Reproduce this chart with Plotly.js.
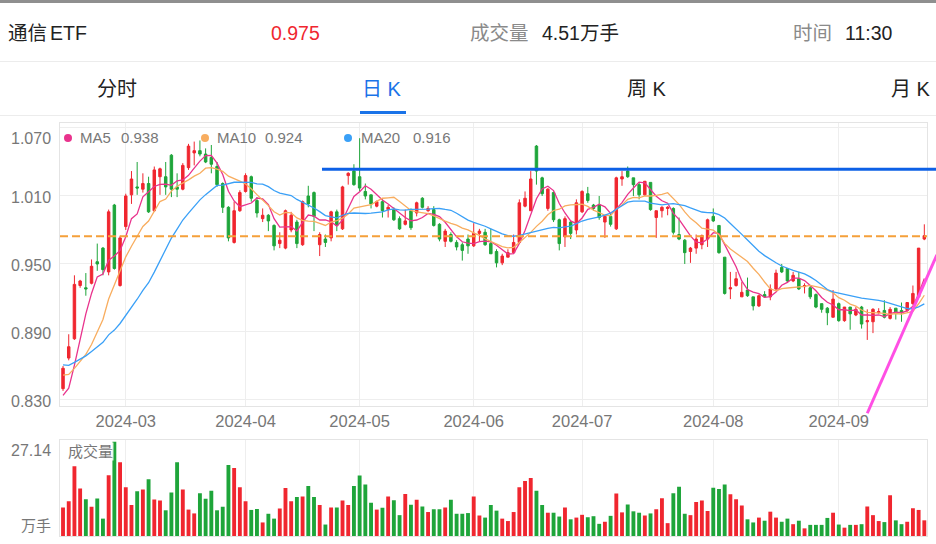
<!DOCTYPE html>
<html>
<head>
<meta charset="utf-8">
<script src="https://cdn.plot.ly/plotly-3.0.1.min.js"></script>
<style>
html,body{margin:0;padding:0;background:#fff;width:936px;height:544px;overflow:hidden;
  font-family:"Liberation Sans","Noto Sans CJK SC",sans-serif;}
#chart{position:absolute;left:0;top:0;width:936px;height:544px;}
.t{position:absolute;white-space:nowrap;height:26px;line-height:26px;z-index:5;}
.hd{font-size:19.5px;color:#222;}
.tab{font-size:20px;color:#222;}
.lg{font-size:15px;color:#777;height:20px;line-height:20px;}
.dot{position:absolute;width:8px;height:8px;border-radius:50%;z-index:5;}
.hl{position:absolute;left:0;width:936px;z-index:4;}
</style>
</head>
<body>
<div id="chart"></div>

<div class="hl" style="top:0;height:3px;background:#8f8f8f;"></div>
<div class="t hd" style="left:8px;top:20px;">通信<span style="margin-left:3px">ETF</span></div>
<div class="t hd" style="left:271px;top:20px;color:#f0262f;">0.975</div>
<div class="t hd" style="left:470px;top:20px;color:#8a8a8a;">成交量</div>
<div class="t hd" style="left:542px;top:20px;">4.51万手</div>
<div class="t hd" style="left:793px;top:20px;color:#8a8a8a;">时间</div>
<div class="t hd" style="left:845px;top:20px;">11:30</div>
<div class="hl" style="top:61px;height:1px;background:#ececec;"></div>

<div class="t tab" style="left:97px;top:76px;">分时</div>
<div class="t tab" style="left:362px;top:76px;color:#1a73e8;">日 K</div>
<div class="t tab" style="left:627px;top:76px;">周 K</div>
<div class="t tab" style="left:891px;top:76px;">月 K</div>
<div style="position:absolute;left:360px;top:111px;width:46px;height:3px;background:#1a73e8;z-index:5;"></div>
<div class="hl" style="top:115px;height:1px;background:#ececec;"></div>

<div id="legend"></div>

<script>
// ---------------- data ----------------
const dates = [
 '2024-02-07','2024-02-08','2024-02-19','2024-02-20','2024-02-21','2024-02-22','2024-02-23','2024-02-26','2024-02-27','2024-02-28',
 '2024-02-29','2024-03-01','2024-03-04','2024-03-05','2024-03-06','2024-03-07','2024-03-08','2024-03-11','2024-03-12','2024-03-13',
 '2024-03-14','2024-03-15','2024-03-18','2024-03-19','2024-03-20','2024-03-21','2024-03-22','2024-03-25','2024-03-26','2024-03-27',
 '2024-03-28','2024-03-29','2024-04-01','2024-04-02','2024-04-03','2024-04-08','2024-04-09','2024-04-10','2024-04-11','2024-04-12',
 '2024-04-15','2024-04-16','2024-04-17','2024-04-18','2024-04-19','2024-04-22','2024-04-23','2024-04-24','2024-04-25','2024-04-26',
 '2024-04-29','2024-04-30','2024-05-06','2024-05-07','2024-05-08','2024-05-09','2024-05-10','2024-05-13','2024-05-14','2024-05-15',
 '2024-05-16','2024-05-17','2024-05-20','2024-05-21','2024-05-22','2024-05-23','2024-05-24','2024-05-27','2024-05-28','2024-05-29',
 '2024-05-30','2024-05-31','2024-06-03','2024-06-04','2024-06-05','2024-06-06','2024-06-07','2024-06-11','2024-06-12','2024-06-13',
 '2024-06-14','2024-06-17','2024-06-18','2024-06-19','2024-06-20','2024-06-21','2024-06-24','2024-06-25','2024-06-26','2024-06-27',
 '2024-06-28','2024-07-01','2024-07-02','2024-07-03','2024-07-04','2024-07-05','2024-07-08','2024-07-09','2024-07-10','2024-07-11',
 '2024-07-12','2024-07-15','2024-07-16','2024-07-17','2024-07-18','2024-07-19','2024-07-22','2024-07-23','2024-07-24','2024-07-25',
 '2024-07-26','2024-07-29','2024-07-30','2024-07-31','2024-08-01','2024-08-02','2024-08-05','2024-08-06','2024-08-07','2024-08-08',
 '2024-08-09','2024-08-12','2024-08-13','2024-08-14','2024-08-15','2024-08-16','2024-08-19','2024-08-20','2024-08-21','2024-08-22',
 '2024-08-23','2024-08-26','2024-08-27','2024-08-28','2024-08-29','2024-08-30','2024-09-02','2024-09-03','2024-09-04','2024-09-05',
 '2024-09-06','2024-09-09','2024-09-10','2024-09-11','2024-09-12','2024-09-13','2024-09-18','2024-09-19','2024-09-20','2024-09-23',
 '2024-09-24','2024-09-25'
];
const open = [
 0.840,0.867,0.884,0.931,0.929,0.933,0.952,0.964,0.943,1.002,
 0.931,0.983,1.011,1.018,1.016,1.021,0.997,1.027,1.027,1.046,
 1.018,1.016,1.035,1.048,1.050,1.047,1.044,1.036,1.021,1.000,
 0.969,0.997,1.014,1.027,1.006,0.990,0.993,0.984,0.968,0.964,
 0.980,0.987,0.967,1.010,1.013,0.967,0.972,0.973,0.996,0.981,
 1.028,1.032,1.027,1.014,1.011,1.001,1.005,0.998,0.998,0.990,
 0.985,0.997,0.995,1.008,0.997,0.998,0.985,0.970,0.976,0.969,
 0.967,0.972,0.966,0.977,0.978,0.968,0.961,0.951,0.956,0.960,
 0.969,1.001,0.997,1.054,1.026,0.999,1.013,0.989,0.974,0.987,
 0.980,0.996,1.012,1.002,1.002,0.987,0.992,0.981,1.025,1.032,
 1.026,1.020,1.011,1.022,0.991,0.997,0.999,0.999,0.976,0.971,
 0.961,0.964,0.967,0.972,0.992,0.984,0.956,0.928,0.931,0.921,
 0.927,0.921,0.913,0.923,0.921,0.928,0.947,0.946,0.935,0.937,
 0.930,0.929,0.923,0.915,0.911,0.903,0.915,0.900,0.912,0.905,
 0.912,0.899,0.899,0.907,0.909,0.902,0.911,0.909,0.909,0.915,
 0.921,0.972
];
const high = [
 0.860,0.888,0.940,0.936,0.942,0.954,0.968,0.965,0.998,1.003,
 0.975,1.012,1.032,1.040,1.030,1.027,1.036,1.035,1.040,1.047,
 1.030,1.039,1.056,1.058,1.059,1.052,1.055,1.040,1.022,1.001,
 1.005,1.015,1.030,1.028,1.009,0.999,0.994,0.985,0.978,0.998,
 0.996,0.989,1.006,1.019,1.014,0.978,0.976,0.997,0.998,1.019,
 1.031,1.038,1.061,1.021,1.011,1.006,1.007,1.002,1.000,0.992,
 0.998,0.999,1.005,1.009,1.001,1.001,0.986,0.981,0.978,0.971,
 0.969,0.976,0.986,0.981,0.981,0.981,0.963,0.959,0.963,0.976,
 1.007,1.014,1.032,1.055,1.027,1.017,1.014,0.990,0.992,0.988,
 1.007,1.015,1.018,1.003,1.010,0.993,0.995,1.027,1.032,1.036,
 1.026,1.022,1.023,1.022,0.997,1.001,1.001,1.000,0.991,0.972,
 0.965,0.976,0.976,0.990,0.999,0.984,0.956,0.943,0.943,0.934,
 0.938,0.921,0.923,0.926,0.932,0.945,0.950,0.946,0.943,0.943,
 0.933,0.931,0.924,0.915,0.912,0.927,0.916,0.912,0.912,0.912,
 0.913,0.910,0.911,0.911,0.918,0.912,0.911,0.916,0.916,0.931,
 0.964,0.985
];
const low = [
 0.838,0.865,0.883,0.929,0.922,0.932,0.944,0.940,0.940,0.945,
 0.930,0.980,1.003,1.011,1.013,0.995,0.996,1.011,1.011,1.009,
 1.009,1.015,1.033,1.037,1.045,1.039,1.030,1.018,0.995,0.970,
 0.968,0.996,1.013,1.005,0.991,0.987,0.979,0.962,0.964,0.963,
 0.978,0.964,0.966,1.000,0.979,0.957,0.965,0.970,0.979,0.980,
 1.020,1.019,1.014,1.007,0.999,1.000,0.991,0.991,0.988,0.980,
 0.984,0.980,0.992,0.999,0.996,0.983,0.970,0.965,0.969,0.962,
 0.953,0.959,0.965,0.970,0.966,0.959,0.947,0.949,0.956,0.959,
 0.968,1.000,0.997,1.020,1.010,0.997,0.987,0.962,0.965,0.972,
 0.976,0.995,1.004,0.997,0.989,0.973,0.983,0.980,1.019,1.026,
 1.010,1.007,1.010,0.997,0.973,0.991,0.993,0.976,0.971,0.950,
 0.951,0.959,0.963,0.965,0.987,0.959,0.923,0.919,0.930,0.921,
 0.921,0.909,0.912,0.920,0.918,0.927,0.942,0.934,0.934,0.927,
 0.924,0.919,0.911,0.907,0.896,0.903,0.899,0.899,0.892,0.904,
 0.893,0.883,0.889,0.906,0.902,0.901,0.901,0.899,0.908,0.914,
 0.920,0.971
];
const close = [
 0.858,0.877,0.932,0.935,0.928,0.948,0.950,0.945,0.996,0.946,
 0.973,1.010,1.025,1.017,1.021,0.996,1.033,1.034,1.018,1.016,
 1.016,1.037,1.054,1.050,1.047,1.040,1.038,1.020,1.000,0.973,
 0.997,1.013,1.028,1.008,0.995,0.993,0.988,0.966,0.971,0.997,
 0.993,0.968,1.005,1.003,0.992,0.976,0.969,0.996,0.984,1.018,
 1.030,1.020,1.017,1.010,1.003,1.005,0.997,1.000,0.989,0.981,
 0.988,0.982,1.004,1.000,0.999,0.984,0.972,0.979,0.970,0.965,
 0.962,0.966,0.977,0.979,0.967,0.959,0.951,0.957,0.960,0.969,
 1.004,1.008,1.025,1.032,1.012,1.016,0.989,0.968,0.990,0.977,
 1.004,1.014,1.006,0.999,0.991,0.992,0.985,1.026,1.027,1.027,
 1.020,1.011,1.023,0.998,0.997,1.000,1.000,0.978,0.972,0.960,
 0.964,0.972,0.975,0.989,0.988,0.960,0.924,0.929,0.937,0.925,
 0.922,0.913,0.922,0.921,0.928,0.942,0.943,0.935,0.940,0.928,
 0.931,0.921,0.912,0.910,0.907,0.919,0.900,0.912,0.906,0.910,
 0.897,0.900,0.910,0.908,0.903,0.910,0.907,0.907,0.916,0.924,
 0.964,0.975
];
// volume, 万手
const volume = [
 8.2,10.0,20.1,13.7,10.6,8.4,10.8,5.0,17.5,27.14,
 21.2,14.0,8.9,12.9,13.4,16.3,10.5,10.2,7.4,12.5,
 21.2,13.4,7.6,6.5,12.3,10.7,13.0,7.4,8.4,20.4,
 19.6,14.0,10.0,7.5,7.8,3.9,6.4,5.0,7.9,13.8,
 10.0,11.2,11.4,14.4,11.2,8.9,3.3,8.2,8.2,10.2,
 8.9,14.4,17.4,14.8,9.6,7.6,8.1,11.4,10.3,6.0,
 12.1,9.0,10.4,8.5,6.9,7.7,7.7,8.2,10.4,6.4,
 6.4,6.6,11.4,5.9,5.3,8.9,7.3,5.0,4.3,6.9,
 14.0,15.8,16.7,13.0,8.9,6.7,6.7,5.6,8.2,4.8,
 5.3,6.1,5.4,5.7,3.5,4.1,5.8,12.2,6.8,9.1,
 7.1,6.7,5.9,6.5,7.7,10.9,3.7,12.3,14.2,6.4,
 6.0,9.8,10.2,7.2,13.9,13.5,14.8,12.0,10.6,8.8,
 4.8,3.9,5.3,4.4,7.0,5.3,4.1,5.0,3.4,4.4,
 2.2,3.2,3.2,3.2,5.2,6.7,3.3,2.4,3.2,3.2,
 3.4,8.5,6.0,4.3,4.0,11.7,4.5,3.4,4.1,8.0,
 7.5,4.51
];
// closes of the 19 sessions before the first visible one, estimated so the
// moving averages start where the picture shows them
const warmupClose = [
 0.885,0.880,0.876,0.872,0.870,0.868,0.866,0.865,0.862,0.856,
 0.872,0.878,0.874,0.866,0.860,0.845,0.830,0.815,0.822
];
const maPeriods = [5, 10, 20];
const maNames = ['MA5', 'MA10', 'MA20'];
const maLegendValues = ['0.938', '0.924', '0.916'];
const monthTicks = ['2024-03-01','2024-04-01','2024-05-06','2024-06-03','2024-07-01','2024-08-01','2024-09-02'];
const monthLabels = ['2024-03','2024-04','2024-05','2024-06','2024-07','2024-08','2024-09'];
const priceTicks = [0.83, 0.89, 0.95, 1.01, 1.07];
const priceTickLabels = ['0.830','0.890','0.950','1.010','1.070'];
// levels of the lines drawn on the chart
const blueLevel = 1.0335, blueStartIdx = 45.4;
const orangeLevel = 0.9745;
const trendFrom = [141.0, 0.8183], trendTo = [153.2, 0.958];

// ---------------- style ----------------
const RED = '#f0262f', GREEN = '#1ea53a';
const MA_COLORS = ['#e9338d', '#f8ad5f', '#3aa0f7'];
const GRID = '#eeeeee', BORDER = '#e4e4e4';
const FONT = '"Liberation Sans","Noto Sans CJK SC",sans-serif';
const X_RANGE = [-0.53, dates.length - 0.53];
const Y_RANGE = [0.8247, 1.0744];
const Y_DOMAIN = [0.3148, 1];
const V_DOMAIN = [0, 0.2332];
const V_RANGE = [0, 27.72];

function movingAverage(n) {
  const all = warmupClose.concat(close);
  const off = warmupClose.length;
  return close.map((_, i) => {
    let s = 0;
    for (let k = off + i - n + 1; k <= off + i; k++) s += all[k];
    return s / n;
  });
}
const px = i => (i - X_RANGE[0]) / (X_RANGE[1] - X_RANGE[0]);
const py = p => Y_DOMAIN[0] + (p - Y_RANGE[0]) / (Y_RANGE[1] - Y_RANGE[0]) * (Y_DOMAIN[1] - Y_DOMAIN[0]);

const volColors = close.map((c, i) => c >= open[i] ? RED : GREEN);

const traces = [
  {
    type: 'candlestick', x: dates, open: open, high: high, low: low, close: close,
    xaxis: 'x', yaxis: 'y', whiskerwidth: 0, hoverinfo: 'skip',
    increasing: { line: { color: RED, width: 1 }, fillcolor: RED },
    decreasing: { line: { color: GREEN, width: 1 }, fillcolor: GREEN }
  }
];
maPeriods.forEach((n, k) => {
  traces.push({
    type: 'scatter', mode: 'lines', x: dates, y: movingAverage(n),
    xaxis: 'x', yaxis: 'y', hoverinfo: 'skip',
    line: { color: MA_COLORS[k], width: 1.3 }
  });
});
traces.push({
  type: 'bar', x: dates, y: volume, xaxis: 'x2', yaxis: 'y2', hoverinfo: 'skip',
  marker: { color: volColors, line: { width: 0 } }
});

const annotations = [];
priceTicks.forEach((v, i) => {
  annotations.push({
    xref: 'paper', yref: 'y', x: -0.008, y: v, xanchor: 'right', yanchor: 'middle',
    text: priceTickLabels[i], showarrow: false, yshift: i === priceTicks.length - 1 ? -11 : -1.5,
    font: { size: 16, color: '#777', family: FONT }
  });
});
annotations.push({
  xref: 'paper', yref: 'y2', x: -0.008, y: Math.max(...volume), xanchor: 'right', yanchor: 'middle',
  text: Math.max(...volume).toFixed(2), showarrow: false, yshift: -9,
  font: { size: 16, color: '#777', family: FONT }
});
annotations.push({
  xref: 'paper', yref: 'y2', x: -0.008, y: 0, xanchor: 'right', yanchor: 'middle',
  text: '万手', showarrow: false, yshift: 10,
  font: { size: 15, color: '#777', family: FONT }
});
annotations.push({
  xref: 'paper', yref: 'paper', x: 0.008, y: 0.2034, xanchor: 'left', yanchor: 'middle',
  text: '成交量', showarrow: false, bgcolor: 'rgba(255,255,255,0.85)', borderpad: 0,
  font: { size: 15, color: '#777', family: FONT }
});

const shapes = [
  { type: 'line', xref: 'paper', yref: 'paper', x0: 0, x1: 1, y0: py(orangeLevel), y1: py(orangeLevel),
    line: { color: '#f5a03a', width: 2, dash: '8px,4px' }, layer: 'above' },
  { type: 'line', xref: 'paper', yref: 'paper', x0: px(blueStartIdx), x1: 1.0108, y0: py(blueLevel), y1: py(blueLevel),
    line: { color: '#0d60e6', width: 3 }, layer: 'above' },
  { type: 'line', xref: 'paper', yref: 'paper', x0: px(trendFrom[0]), y0: py(trendFrom[1]), x1: px(trendTo[0]), y1: py(trendTo[1]),
    line: { color: '#ff4fe4', width: 3 }, layer: 'above' }
];

const layout = {
  width: 936, height: 544,
  margin: { l: 60, r: 9.3, t: 123, b: 8, pad: 0 },
  paper_bgcolor: 'rgba(0,0,0,0)', plot_bgcolor: '#ffffff',
  showlegend: false, boxgap: 0.38, bargap: 0.32,
  font: { family: FONT, color: '#777' },
  xaxis: {
    type: 'category', range: X_RANGE, anchor: 'y', domain: [0, 1],
    tickmode: 'array', tickvals: monthTicks, ticktext: monthLabels,
    showgrid: true, gridcolor: GRID, showline: true, linecolor: BORDER, mirror: true,
    ticks: '', zeroline: false, tickfont: { size: 16.5, color: '#777', family: FONT },
    rangeslider: { visible: false }
  },
  yaxis: {
    domain: Y_DOMAIN, range: Y_RANGE, anchor: 'x', tickmode: 'array', tickvals: priceTicks,
    showticklabels: false, showgrid: true, gridcolor: GRID, showline: true, linecolor: BORDER,
    mirror: true, zeroline: false, ticks: ''
  },
  xaxis2: {
    type: 'category', range: X_RANGE, anchor: 'y2', domain: [0, 1],
    tickmode: 'array', tickvals: monthTicks, showticklabels: false,
    showgrid: true, gridcolor: GRID, showline: true, linecolor: BORDER, mirror: true,
    ticks: '', zeroline: false
  },
  yaxis2: {
    domain: V_DOMAIN, range: V_RANGE, anchor: 'x2', showticklabels: false, showgrid: false,
    showline: true, linecolor: BORDER, mirror: true, zeroline: false, ticks: ''
  },
  annotations: annotations,
  shapes: shapes
};

Plotly.newPlot('chart', traces, layout, { displayModeBar: false, staticPlot: true });

// legend row (MA name + latest value)
const legendX = [[68, 80, 121], [205, 217, 265], [348, 361, 413]];
const lg = document.getElementById('legend');
maNames.forEach((name, k) => {
  const d = document.createElement('div');
  d.className = 'dot';
  d.style.left = (legendX[k][0] - 4) + 'px'; d.style.top = '134px';
  d.style.background = MA_COLORS[k];
  lg.appendChild(d);
  const a = document.createElement('div');
  a.className = 't lg'; a.style.left = legendX[k][1] + 'px'; a.style.top = '128px';
  a.textContent = name; lg.appendChild(a);
  const b = document.createElement('div');
  b.className = 't lg'; b.style.left = legendX[k][2] + 'px'; b.style.top = '128px';
  b.textContent = maLegendValues[k]; lg.appendChild(b);
});
</script>
</body>
</html>
